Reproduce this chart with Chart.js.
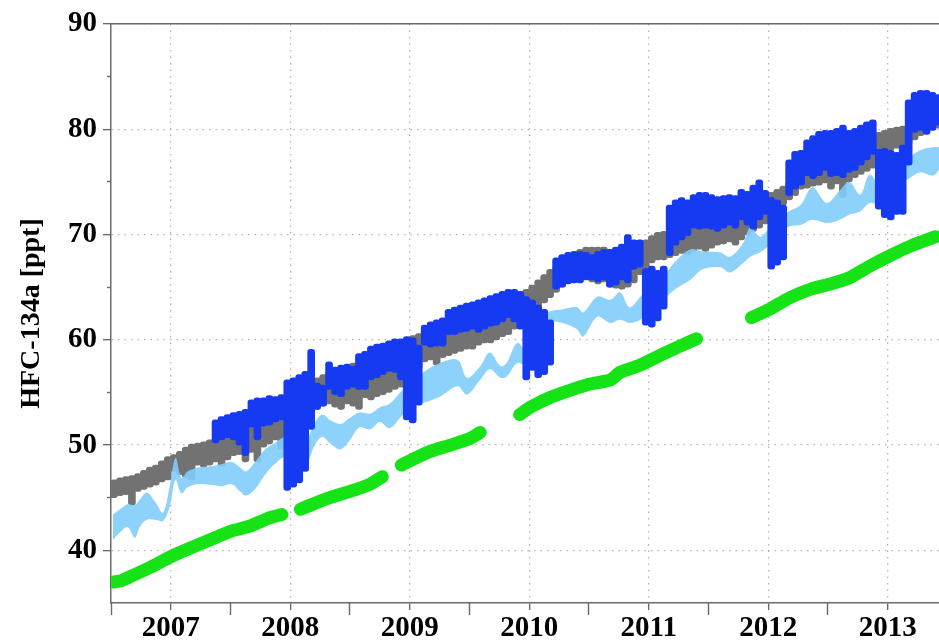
<!DOCTYPE html>
<html>
<head>
<meta charset="utf-8">
<title>HFC-134a</title>
<script src="https://cdn.jsdelivr.net/npm/chart.js@4.4.1/dist/chart.umd.min.js"></script>
<style>
  html, body { margin: 0; padding: 0; background: #fff; overflow: hidden; }
  #wrap { width: 939px; height: 640px; }
</style>
</head>
<body>
<div id="wrap"><canvas id="c" width="939" height="640"></canvas></div>
<script>
// ---- axis ticks and labels ----
const yearTicks  = [2007.5, 2008.5, 2009.5, 2010.5, 2011.5, 2012.5, 2013.5];
const yearLabels = ['2007', '2008', '2009', '2010', '2011', '2012', '2013'];
const yearBounds = [2007, 2008, 2009, 2010, 2011, 2012, 2013];
const yMajor = [40, 50, 60, 70, 80, 90];
const yMinor = [45, 55, 65, 75, 85];

// ---- time columns for the dense station records (decimal year) ----
const colT = [
  2007.025,2007.075,2007.125,2007.175,2007.225,2007.275,2007.325,2007.375,2007.425,2007.475,
  2007.525,2007.575,2007.625,2007.675,2007.725,2007.775,2007.825,2007.875,2007.925,2007.975,
  2008.025,2008.075,2008.125,2008.175,2008.225,2008.275,2008.325,2008.375,2008.425,2008.475,
  2008.525,2008.575,2008.625,2008.675,2008.725,2008.775,2008.825,2008.875,2008.925,2008.975,
  2009.025,2009.075,2009.125,2009.175,2009.225,2009.275,2009.325,2009.375,2009.425,2009.475,
  2009.525,2009.575,2009.625,2009.675,2009.725,2009.775,2009.825,2009.875,2009.925,2009.975,
  2010.025,2010.075,2010.125,2010.175,2010.225,2010.275,2010.325,2010.375,2010.425,2010.475,
  2010.525,2010.575,2010.625,2010.675,2010.725,2010.775,2010.825,2010.875,2010.925,2010.975,
  2011.025,2011.075,2011.125,2011.175,2011.225,2011.275,2011.325,2011.375,2011.425,2011.475,
  2011.525,2011.575,2011.625,2011.675,2011.725,2011.775,2011.825,2011.875,2011.925,2011.975,
  2012.025,2012.075,2012.125,2012.175,2012.225,2012.275,2012.325,2012.375,2012.425,2012.475,
  2012.525,2012.575,2012.625,2012.675,2012.725,2012.775,2012.825,2012.875,2012.925,2012.975,
  2013.025,2013.075,2013.125,2013.175,2013.225,2013.275,2013.325,2013.375,2013.425,2013.475,
  2013.525,2013.575,2013.625,2013.675,2013.725,2013.775,2013.825,2013.875,2013.925
];

// grey station: spread of the measurements in each column (ppt)
const grayHi = [
  46.7,46.9,47.0,47.1,47.3,47.6,47.9,48.1,48.5,48.9,
  49.1,49.4,49.8,50.1,50.2,50.3,50.5,50.8,51.1,51.3,
  51.7,52.0,52.2,52.4,52.6,52.9,53.4,53.7,53.9,54.1,
  54.5,55.1,55.5,56.0,56.4,56.7,57.0,57.2,57.4,57.6,
  57.8,58.0,58.3,58.6,58.9,59.2,59.4,59.6,59.8,60.0,
  60.4,60.6,60.8,60.9,61.0,61.0,61.1,61.2,61.3,61.5,
  61.7,61.9,62.1,62.3,62.5,62.8,63.1,63.3,64.0,64.8,
  65.2,65.7,66.2,66.7,67.0,67.4,67.8,68.2,68.6,68.8,
  68.8,68.8,68.8,68.6,68.3,68.1,68.1,68.4,69.0,69.5,
  69.9,70.2,70.3,70.5,70.6,70.8,71.0,71.2,71.4,71.6,
  71.8,72.0,72.2,72.4,72.4,72.6,72.9,73.1,73.3,73.6,
  74.0,74.3,74.6,75.0,75.4,75.8,76.2,76.5,76.8,77.1,
  77.3,77.4,77.5,77.8,78.2,78.6,79.0,79.3,79.7,79.9,
  80.1,80.2,80.3,80.4,80.7,80.9,81.2,81.4,81.5
];
const grayLo = [
  45.0,45.2,45.3,44.3,45.6,45.8,46.0,46.2,46.5,46.7,
  47.5,47.2,46.9,46.7,48.1,47.9,48.1,48.4,48.0,48.6,
  49.0,49.1,48.4,49.3,48.4,49.8,50.1,50.5,49.6,50.7,
  51.5,52.0,52.4,52.9,53.4,53.7,53.9,53.6,53.4,53.9,
  53.7,53.4,54.5,54.3,54.6,54.8,55.0,55.3,55.5,55.7,
  56.4,57.2,57.9,58.1,57.6,58.3,58.5,58.7,58.9,59.1,
  59.1,59.5,59.7,59.7,60.0,60.3,60.5,61.0,61.4,62.2,
  62.7,63.1,63.5,64.0,64.5,65.0,65.4,65.7,65.9,66.0,
  65.5,65.3,65.5,65.0,64.9,64.8,65.0,65.4,66.2,66.8,
  67.3,67.6,67.6,67.8,68.0,68.2,68.1,68.4,68.6,68.4,
  68.7,69.0,69.1,69.3,69.0,69.5,70.0,70.3,70.6,71.0,
  71.6,72.2,72.8,73.3,73.7,74.3,74.4,74.6,74.7,74.9,
  74.3,74.8,73.5,75.0,75.4,75.7,76.0,76.3,77.1,77.8,
  78.0,78.2,78.2,78.5,79.0,79.4,79.9,80.1,80.1
];

// blue station: spread of the measurements in each column (ppt), record starts late 2007
const blueHi = [
  null,null,null,null,null,null,null,null,null,null,
  null,null,null,null,null,null,null,52.4,52.7,52.9,
  53.1,53.2,53.4,54.3,54.5,54.5,54.7,54.6,54.8,56.2,
  56.4,56.7,57.0,59.1,55.9,55.7,57.9,57.4,57.6,57.7,
  57.5,58.7,58.9,59.4,59.6,59.7,59.9,60.1,60.1,60.3,
  60.2,59.5,61.4,61.7,61.9,62.1,62.9,63.1,63.3,63.5,
  63.6,63.8,64.0,64.2,64.4,64.6,64.8,64.8,64.6,64.1,
  63.8,63.3,62.9,61.9,67.8,68.1,68.3,68.4,68.4,68.3,
  68.1,68.4,68.6,68.6,68.8,69.1,70.0,69.5,69.5,66.8,
  67.0,66.6,67.0,72.8,73.3,73.5,73.3,73.8,74.0,74.0,
  73.8,73.6,73.7,73.8,73.7,74.3,74.1,74.7,75.2,74.2,
  73.5,73.3,72.8,77.1,77.9,78.0,79.0,79.4,79.8,79.9,
  79.9,80.1,80.4,79.9,80.1,80.4,80.7,80.9,78.1,78.2,
  78.0,77.8,78.5,82.8,83.5,83.7,83.7,83.5,83.3
];
const blueLo = [
  null,null,null,null,null,null,null,null,null,null,
  null,null,null,null,null,null,null,50.2,50.5,50.7,
  50.5,50.0,49.0,51.7,50.5,51.8,51.9,52.2,52.4,45.7,
  46.0,46.4,47.5,51.5,53.4,53.7,55.3,54.8,54.6,55.3,
  55.5,55.3,55.3,56.2,56.4,56.7,57.0,56.9,56.2,52.4,
  52.1,53.8,59.5,59.3,59.4,59.4,60.5,60.5,60.7,60.8,
  61.0,60.7,61.0,61.3,61.4,61.7,62.1,61.7,61.0,56.2,
  57.1,56.4,56.7,57.6,64.8,65.0,65.3,65.4,65.4,65.7,
  65.7,65.5,65.7,65.0,65.2,65.7,65.4,66.7,66.9,61.4,
  61.2,61.8,62.9,68.0,69.0,69.5,69.9,70.6,70.5,70.6,
  70.5,70.3,70.6,70.9,70.6,71.4,70.9,70.5,71.4,71.9,
  66.7,67.1,67.6,73.7,74.3,74.7,75.6,75.3,75.6,76.1,
  75.5,75.6,75.4,75.9,76.1,76.6,77.1,77.6,72.4,71.6,
  71.4,71.9,71.9,76.6,79.7,79.9,79.5,79.9,80.4
];

// modelled range (light blue band)
const bandT = [
  2007.017,2007.075,2007.14,2007.20,2007.24,2007.30,2007.37,2007.435,2007.49,2007.54,
  2007.59,2007.64,2007.74,2007.845,2007.93,2008.01,2008.08,2008.13,2008.205,2008.29,
  2008.37,2008.46,2008.54,2008.62,2008.71,2008.77,2008.83,2008.92,2009.00,2009.08,
  2009.17,2009.25,2009.33,2009.42,2009.50,2009.61,2009.75,2009.90,2009.98,2010.09,
  2010.17,2010.26,2010.31,2010.40,2010.48,2010.55,2010.62,2010.67,2010.78,2010.90,
  2010.95,2011.07,2011.18,2011.26,2011.34,2011.43,2011.51,2011.62,2011.72,2011.85,
  2011.95,2012.10,2012.18,2012.29,2012.35,2012.43,2012.51,2012.66,2012.77,2012.87,
  2012.99,2013.10,2013.18,2013.27,2013.35,2013.46,2013.56,2013.66,2013.77,2013.88,
  2013.94
];
const bandHi = [
  43.4,43.9,44.4,44.3,44.8,45.5,44.6,43.6,46.0,48.8,
  46.9,47.5,47.9,48.0,48.2,48.4,47.9,47.5,48.4,49.6,
  50.2,50.8,50.5,50.2,52.2,52.9,52.4,52.0,52.6,53.1,
  53.0,53.6,53.9,55.0,55.9,56.9,57.8,58.1,56.4,57.5,
  58.8,57.5,57.8,59.7,58.9,59.5,62.4,62.7,62.9,63.1,
  62.6,64.1,63.8,64.5,63.1,64.1,65.0,66.0,67.4,68.6,
  68.4,68.3,67.9,69.2,70.7,69.8,70.6,72.1,72.8,74.5,
  73.0,74.2,75.0,73.8,75.7,74.2,76.1,77.1,78.0,78.3,
  78.3
];
const bandLo = [
  41.0,41.7,42.2,41.2,42.2,42.9,42.9,42.8,44.1,46.7,
  45.4,46.0,46.3,46.2,46.1,46.3,45.6,45.2,45.8,47.2,
  48.2,48.9,48.4,47.9,50.1,50.8,50.2,49.6,50.5,51.7,
  51.5,52.2,51.6,52.6,53.7,54.0,54.6,55.6,54.8,56.2,
  57.2,56.4,56.5,57.8,57.5,58.0,61.2,61.7,61.6,61.0,
  60.3,62.2,61.6,61.9,61.6,61.9,62.9,63.8,64.8,65.7,
  66.7,66.9,66.4,67.3,67.9,68.3,69.0,70.7,70.9,71.4,
  71.1,71.4,71.9,72.2,73.0,72.8,74.7,75.2,75.9,75.6,
  76.3
];

// green station (null = no data)
const greenT = [
  2007.02,2007.08,2007.16,2007.33,2007.50,2007.66,2007.83,2008.00,2008.16,2008.33,
  2008.43,2008.50,2008.585,2008.67,2008.83,2009.00,2009.17,2009.27,2009.35,2009.43,
  2009.50,2009.67,2009.84,2010.00,2010.09,2010.25,2010.42,2010.51,2010.67,2010.84,
  2011.01,2011.18,2011.26,2011.43,2011.59,2011.76,2011.90,2012.10,2012.36,2012.51,
  2012.68,2012.85,2013.02,2013.18,2013.35,2013.52,2013.69,2013.90
];
const greenV = [
  37.0,37.1,37.5,38.4,39.4,40.2,41.0,41.8,42.3,43.1,
  43.4,null,43.9,44.3,45.0,45.6,46.3,47.0,null,48.1,
  48.5,49.4,50.0,50.6,51.2,null,52.9,53.6,54.5,55.2,
  55.8,56.2,56.9,57.6,58.5,59.4,60.1,null,62.1,62.9,
  64.0,64.8,65.3,65.9,67.0,68.0,68.9,69.8
];

// ---- styling ----
const FONT = "'Liberation Serif', 'Times New Roman', serif";
const AXIS = '#6a6a6a';
const GRID = '#b4b4b4';
const X_MIN = 2007, X_MAX = 2013.929;

const floatBars = (lo, hi) => colT
  .map((t, i) => (lo[i] == null ? null : { x: t, y: [lo[i], hi[i]] }))
  .filter(p => p !== null);
const pts = (ts, vs) => ts.map((t, i) => ({ x: t, y: vs[i] }));
const setTicks = vals => s => { s.ticks = vals.map(v => ({ value: v })); };

new Chart(document.getElementById('c'), {
  type: 'line',
  data: {
    datasets: [
      {
        type: 'bar', label: 'grey', data: floatBars(grayLo, grayHi),
        backgroundColor: '#727272', barThickness: 7, borderRadius: 3,
        borderSkipped: false, grouped: false, order: 3
      },
      {
        type: 'line', label: 'range low', data: pts(bandT, bandLo),
        borderWidth: 0, borderColor: 'rgba(0,0,0,0)', pointRadius: 0,
        tension: 0.35, fill: false, order: 2
      },
      {
        type: 'line', label: 'range high', data: pts(bandT, bandHi),
        borderWidth: 0, borderColor: 'rgba(0,0,0,0)', pointRadius: 0,
        tension: 0.35, fill: '-1', backgroundColor: 'rgba(128,205,250,0.9)', order: 2
      },
      {
        type: 'bar', label: 'blue', data: floatBars(blueLo, blueHi),
        backgroundColor: 'rgb(22,58,242)', barThickness: 7, borderRadius: 3,
        borderSkipped: false, grouped: false, order: 1
      },
      {
        type: 'line', label: 'green', data: pts(greenT, greenV),
        borderColor: '#16e316', borderWidth: 13, borderCapStyle: 'round',
        borderJoinStyle: 'round', pointRadius: 0, spanGaps: false,
        tension: 0.2, fill: false, order: 0
      }
    ]
  },
  options: {
    responsive: false,
    animation: false,
    devicePixelRatio: 1,
    events: [],
    layout: { padding: 0 },
    plugins: { legend: { display: false }, tooltip: { enabled: false } },
    scales: {
      x: {
        type: 'linear', position: 'bottom', weight: 1, min: X_MIN, max: X_MAX, offset: false,
        afterBuildTicks: setTicks(yearTicks),
        afterFit: s => { s.height = 37; },
        ticks: {
          autoSkip: false, maxRotation: 0, padding: 1, color: '#000',
          font: { family: FONT, size: 29, weight: 'bold' },
          callback: (v, i) => yearLabels[i]
        },
        grid: { offset: false, color: GRID, lineWidth: 1.3, tickLength: 7, tickColor: AXIS, tickWidth: 1.4 },
        border: { display: true, color: AXIS, width: 1.5, dash: [1.5, 5] }
      },
      xYears: {
        type: 'linear', position: 'bottom', weight: 0, min: X_MIN, max: X_MAX, offset: false,
        afterBuildTicks: setTicks(yearBounds),
        afterFit: s => { s.height = 0; },
        ticks: { display: false },
        grid: { offset: false, drawOnChartArea: false, tickLength: 12, tickColor: AXIS, tickWidth: 1.4 },
        border: { display: false }
      },
      xTop: {
        type: 'linear', position: 'top', min: X_MIN, max: X_MAX, offset: false,
        afterFit: s => { s.height = 24; },
        ticks: { display: false },
        grid: { display: false, offset: false },
        border: { display: true, color: AXIS, width: 1.5 }
      },
      y: {
        type: 'linear', position: 'left', weight: 1, min: 35, max: 90,
        afterBuildTicks: setTicks(yMajor),
        afterFit: s => { s.width = 111; },
        ticks: { padding: 6, color: '#000', font: { family: FONT, size: 29, weight: 'bold' } },
        grid: { color: GRID, lineWidth: 1.3, tickLength: 8, tickColor: AXIS, tickWidth: 1.4 },
        border: { display: true, color: AXIS, width: 1.5, dash: [1.5, 5] },
        title: {
          display: true, text: 'HFC-134a [ppt]', color: '#000',
          font: { family: FONT, size: 28, weight: 'bold' },
          padding: { top: 15, bottom: 0 }
        }
      },
      yMinor: {
        type: 'linear', position: 'left', weight: 0, min: 35, max: 90,
        afterBuildTicks: setTicks(yMinor),
        afterFit: s => { s.width = 0; },
        ticks: { display: false },
        grid: { drawOnChartArea: false, tickLength: 4, tickColor: AXIS, tickWidth: 1.4 },
        border: { display: false }
      }
    }
  }
});
</script>
</body>
</html>
